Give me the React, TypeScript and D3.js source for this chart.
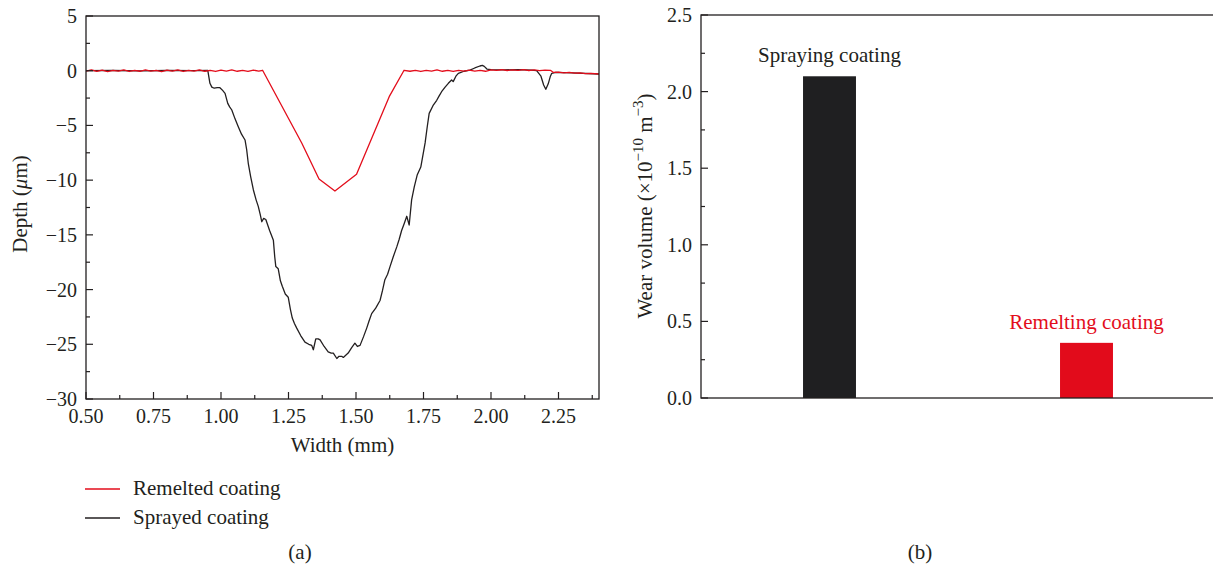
import React from "react";
import * as d3 from "d3";

// ---------- Data: wear-track profiles (panel a) ----------
const remeltedWidth = [
  0.5, 0.52, 0.54, 0.56, 0.58, 0.6, 0.62, 0.64, 0.66, 0.68, 0.7, 0.72, 0.74, 0.76, 0.78, 0.8,
  0.82, 0.84, 0.86, 0.88, 0.9, 0.92, 0.94, 0.96, 0.98, 1.0, 1.02, 1.04, 1.06, 1.08, 1.1, 1.12,
  1.14, 1.154, 1.299, 1.363, 1.422, 1.502, 1.623, 1.678, 1.7, 1.72, 1.74, 1.76, 1.78, 1.8,
  1.82, 1.84, 1.86, 1.88, 1.9, 1.92, 1.94, 1.96, 1.98, 2.0, 2.02, 2.04, 2.06, 2.08, 2.1, 2.12,
  2.14, 2.16, 2.18, 2.2, 2.22, 2.23, 2.25, 2.27, 2.29, 2.31, 2.33, 2.35, 2.37, 2.4,
];
const remeltedDepth = [
  -0.04, 0.07, -0.06, 0.05, -0.08, 0.04, -0.03, 0.07, -0.07, 0.04, -0.05, 0.08, -0.03, 0.04, -0.08, 0.05,
  -0.04, 0.07, -0.07, 0.03, -0.04, 0.08, -0.05, 0.04, -0.07, 0.05, -0.03, 0.07, -0.05, 0.03, -0.07, 0.05,
  -0.03, 0.04, -6.6, -9.9, -11.0, -9.47, -2.37, 0.04, -0.05, 0.04, -0.07, 0.03, -0.04, 0.07,
  -0.05, 0.03, -0.07, 0.04, -0.03, 0.05, -0.04, 0.03, -0.05, 0.07, 0.04, 0.09, 0.02, 0.08, 0.03, 0.09,
  0.02, 0.07, 0.0, 0.06, 0.04, -0.15, -0.12, -0.2, -0.15, -0.22, -0.2, -0.27, -0.25, -0.3,
];

const sprayedWidth = [
  0.5, 0.6, 0.7, 0.8, 0.9, 0.951, 0.959, 0.966, 0.975, 0.986, 0.996, 1.006, 1.015, 1.025, 1.032,
  1.04, 1.052, 1.064, 1.076, 1.089, 1.095, 1.101, 1.11, 1.12, 1.13, 1.138, 1.145, 1.151, 1.158,
  1.166, 1.18, 1.194, 1.199, 1.203, 1.212, 1.22, 1.227, 1.238, 1.249, 1.257, 1.264, 1.272, 1.28,
  1.295, 1.311, 1.325, 1.336, 1.342, 1.351, 1.36, 1.367, 1.382, 1.397, 1.408, 1.416, 1.429, 1.437,
  1.447, 1.453, 1.462, 1.471, 1.484, 1.496, 1.505, 1.515, 1.528, 1.54, 1.548, 1.558, 1.573, 1.589,
  1.598, 1.607, 1.617, 1.626, 1.638, 1.651, 1.66, 1.669, 1.678, 1.688, 1.697, 1.706, 1.716, 1.727,
  1.74, 1.756, 1.764, 1.771, 1.785, 1.799, 1.808, 1.817, 1.83, 1.842, 1.854, 1.86, 1.87, 1.879,
  1.9, 1.922, 1.94, 1.959, 1.968, 1.975, 1.985, 2.0, 2.05, 2.1, 2.15, 2.169, 2.185, 2.195, 2.203,
  2.212, 2.22, 2.225, 2.24, 2.3, 2.4,
];
const sprayedDepth = [
  0.0, 0.02, -0.02, 0.02, 0.0, 0.03, -1.15, -1.5, -1.6, -1.55, -1.55, -1.8, -2.07, -2.98, -3.3,
  -3.59, -4.4, -5.12, -5.8, -6.33, -7.2, -8.46, -9.7, -10.9, -11.8, -12.4, -13.1, -13.8, -13.5,
  -13.6, -14.6, -15.5, -17.0, -17.9, -18.1, -19.2, -19.7, -20.4, -20.7, -21.8, -22.6, -23.1, -23.5,
  -24.2, -24.8, -25.0, -25.1, -25.5, -24.5, -24.5, -24.6, -25.2, -25.7, -25.8, -25.8, -26.3, -26.1,
  -26.1, -26.2, -26.0, -25.8, -25.3, -24.9, -25.2, -25.1, -24.3, -23.5, -22.9, -22.2, -21.7, -21.0,
  -20.1, -19.1, -18.6, -17.9, -17.0, -16.1, -15.4, -14.6, -14.0, -13.3, -14.1, -11.8, -10.6, -9.5,
  -8.8, -6.6, -5.1, -3.9, -3.2, -2.7, -2.3, -1.92, -1.5, -1.15, -0.85, -1.0, -0.5, -0.24,
  -0.05, 0.06, 0.25, 0.43, 0.48, 0.4, 0.15, 0.1, 0.08, 0.1, 0.05, 0.0, -0.5, -1.3, -1.7,
  -1.2, -0.5, -0.24, -0.15, -0.2, -0.3,
];

const widthTicks = [0.5, 0.75, 1.0, 1.25, 1.5, 1.75, 2.0, 2.25];
const widthMinorTicks = [0.625, 0.875, 1.125, 1.375, 1.625, 1.875, 2.125, 2.375];
const depthTicks = [5, 0, -5, -10, -15, -20, -25, -30];
const depthMinorTicks = [2.5, -2.5, -7.5, -12.5, -17.5, -22.5, -27.5];

const legendLabels = ["Remelted coating", "Sprayed coating"];

// ---------- Data: wear volume (panel b) ----------
const barCategories = ["Spraying coating", "Remelting coating"];
const barPositions = [1, 2];
const barValues = [2.1, 0.36];
const volumeTicks = [0, 0.5, 1.0, 1.5, 2.0, 2.5];
const volumeMinorTicks = [0.25, 0.75, 1.25, 1.75, 2.25];

const INK = "#231f20";
const RED = "#e30d1b";
const FONT = "'Liberation Serif', 'DejaVu Serif', serif";

export default function App() {
  // panel a scales
  const xA = d3.scaleLinear().domain([0.5, 2.4]).range([86, 599]);
  const yA = d3.scaleLinear().domain([-30, 5]).range([399, 16]);
  // panel b scales
  const xB = d3.scaleLinear().domain([0.5, 2.5]).range([701, 1215]);
  const yB = d3.scaleLinear().domain([0, 2.5]).range([398, 15]);

  const line = d3
    .line<[number, number]>()
    .x((d) => xA(d[0]))
    .y((d) => yA(d[1]));

  const remeltedPath = line(remeltedWidth.map((w, i) => [w, remeltedDepth[i]]) as [number, number][]) || "";
  const sprayedPath = line(sprayedWidth.map((w, i) => [w, sprayedDepth[i]]) as [number, number][]) || "";

  const fmtDepth = (d: number) => (d < 0 ? "\u2212" + Math.abs(d) : String(d));
  const majorLen = 7;
  const minorLen = 4;
  const barHalf = 0.103;
  const tickFont = 20;
  const labelFont = 21;

  const [aX0, aX1] = xA.range();
  const [aY0, aY1] = [yA(5), yA(-30)];
  const [bX0, bX1] = xB.range();
  const [bY0, bY1] = [yB(2.5), yB(0)];

  return (
    <svg
      width={1213}
      height={570}
      style={{ position: "absolute", left: 0, top: 0, background: "#fff" }}
      fontFamily={FONT}
    >
      <rect x={0} y={0} width={1213} height={570} fill="#fff" />

      {/* ---------- Panel (a) ---------- */}
      <path d={sprayedPath} fill="none" stroke={INK} strokeWidth={1.3} strokeLinejoin="round" />
      <path d={remeltedPath} fill="none" stroke={RED} strokeWidth={1.3} strokeLinejoin="round" />

      <rect x={aX0} y={aY0} width={aX1 - aX0} height={aY1 - aY0} fill="none" stroke={INK} strokeWidth={1.3} />

      {widthTicks.map((t) => (
        <g key={"wx" + t}>
          <line x1={xA(t)} x2={xA(t)} y1={aY1} y2={aY1 - majorLen} stroke={INK} strokeWidth={1.2} />
          <text x={xA(t)} y={aY1 + 24} textAnchor="middle" fontSize={tickFont} fill={INK}>
            {t.toFixed(2)}
          </text>
        </g>
      ))}
      {widthMinorTicks.map((t) => (
        <line key={"wm" + t} x1={xA(t)} x2={xA(t)} y1={aY1} y2={aY1 - minorLen} stroke={INK} strokeWidth={1.2} />
      ))}
      {depthTicks.map((t) => (
        <g key={"dy" + t}>
          <line x1={aX0} x2={aX0 + majorLen} y1={yA(t)} y2={yA(t)} stroke={INK} strokeWidth={1.2} />
          <text x={aX0 - 9} y={yA(t)} dy="0.35em" textAnchor="end" fontSize={tickFont} fill={INK}>
            {fmtDepth(t)}
          </text>
        </g>
      ))}
      {depthMinorTicks.map((t) => (
        <line key={"dm" + t} x1={aX0} x2={aX0 + minorLen} y1={yA(t)} y2={yA(t)} stroke={INK} strokeWidth={1.2} />
      ))}

      <text x={(aX0 + aX1) / 2} y={452} textAnchor="middle" fontSize={labelFont} fill={INK}>
        Width (mm)
      </text>
      <text transform={`translate(27, 204) rotate(-90)`} textAnchor="middle" fontSize={labelFont} fill={INK}>
        Depth (<tspan fontStyle="italic">μ</tspan>m)
      </text>

      {/* legend */}
      {legendLabels.map((lab, i) => (
        <g key={lab}>
          <line x1={85} x2={120} y1={489 + i * 29} y2={489 + i * 29} stroke={i === 0 ? RED : INK} strokeWidth={1.3} />
          <text x={133} y={495 + i * 29} fontSize={labelFont} fill={INK}>
            {lab}
          </text>
        </g>
      ))}

      <text x={300} y={559} textAnchor="middle" fontSize={labelFont} fill={INK}>
        (a)
      </text>

      {/* ---------- Panel (b) ---------- */}
      {barValues.map((v, i) => (
        <g key={barCategories[i]}>
          <rect
            x={xB(barPositions[i] - barHalf)}
            y={yB(v)}
            width={xB(barPositions[i] + barHalf) - xB(barPositions[i] - barHalf)}
            height={yB(0) - yB(v)}
            fill={i === 0 ? "#1f1f21" : "#e20b1b"}
          />
          <text
            x={xB(barPositions[i])}
            y={yB(v) - 14}
            textAnchor="middle"
            fontSize={labelFont}
            fill={i === 0 ? INK : RED}
          >
            {barCategories[i]}
          </text>
        </g>
      ))}

      <rect x={bX0} y={bY0} width={bX1 - bX0} height={bY1 - bY0} fill="none" stroke={INK} strokeWidth={1.3} />

      {volumeTicks.map((t) => (
        <g key={"vy" + t}>
          <line x1={bX0} x2={bX0 + majorLen} y1={yB(t)} y2={yB(t)} stroke={INK} strokeWidth={1.2} />
          <text x={bX0 - 9} y={yB(t)} dy="0.35em" textAnchor="end" fontSize={tickFont} fill={INK}>
            {t.toFixed(1)}
          </text>
        </g>
      ))}
      {volumeMinorTicks.map((t) => (
        <line key={"vm" + t} x1={bX0} x2={bX0 + minorLen} y1={yB(t)} y2={yB(t)} stroke={INK} strokeWidth={1.2} />
      ))}

      <text transform={`translate(652, 206) rotate(-90)`} textAnchor="middle" fontSize={labelFont} fill={INK}>
        Wear volume (×10
        <tspan fontSize={15} dy={-9}>−10</tspan>
        <tspan dy={9}> m</tspan>
        <tspan fontSize={15} dy={-9}>−3</tspan>
        <tspan dy={9}>)</tspan>
      </text>

      <text x={920} y={559} textAnchor="middle" fontSize={labelFont} fill={INK}>
        (b)
      </text>
    </svg>
  );
}
